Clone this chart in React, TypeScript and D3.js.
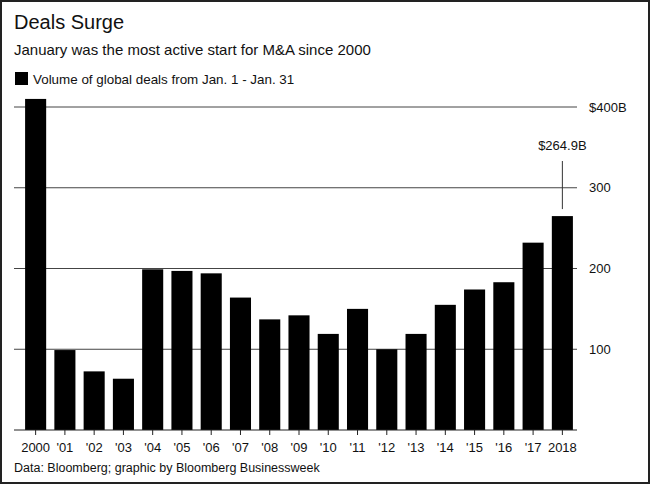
import { useEffect, useRef } from "react";
import * as d3 from "d3";

const years = [
  "2000", "'01", "'02", "'03", "'04", "'05", "'06", "'07", "'08", "'09",
  "'10", "'11", "'12", "'13", "'14", "'15", "'16", "'17", "2018",
];
const volumes = [
  410, 99, 72.6, 63.5, 199, 197, 194, 164, 137, 142,
  119, 150, 100, 119, 155, 174, 183, 232, 264.9,
];
const yTicks = [100, 200, 300, 400];
const yTickLabels = ["100", "200", "300", "$400B"];

const title = "Deals Surge";
const subtitle = "January was the most active start for M&A since 2000";
const legendLabel = "Volume of global deals from Jan. 1 - Jan. 31";
const source = "Data: Bloomberg; graphic by Bloomberg Businessweek";
const callout = "$264.9B";

export default function App() {
  const ref = useRef<HTMLDivElement>(null);

  useEffect(() => {
    const W = 650;
    const H = 484;
    const font = "'Liberation Sans', Arial, sans-serif";

    const svg = d3
      .select(ref.current)
      .html("")
      .append("svg")
      .attr("width", W)
      .attr("height", H)
      .style("position", "absolute")
      .style("left", "0px")
      .style("top", "0px")
      .style("font-family", font);

    svg.append("rect").attr("width", W).attr("height", H).attr("fill", "#fff");
    svg
      .append("rect")
      .attr("x", 1)
      .attr("y", 1)
      .attr("width", W - 2)
      .attr("height", H - 2)
      .attr("fill", "none")
      .attr("stroke", "#222")
      .attr("stroke-width", 2);

    const x = d3
      .scaleBand<string>()
      .domain(years)
      .range([21, 577])
      .paddingInner(0.28)
      .paddingOuter(0.14);

    const y = d3.scaleLinear().domain([0, 400]).range([430, 107]);

    const gridLeft = 14;
    const gridRight = 577;

    // headings
    svg
      .append("text")
      .attr("x", 14)
      .attr("y", 29)
      .attr("font-size", 20)
      .attr("fill", "#111")
      .text(title);
    svg
      .append("text")
      .attr("x", 14)
      .attr("y", 55)
      .attr("font-size", 15)
      .attr("fill", "#111")
      .text(subtitle);

    // legend
    svg
      .append("rect")
      .attr("x", 15)
      .attr("y", 72)
      .attr("width", 13)
      .attr("height", 13)
      .attr("fill", "#000");
    svg
      .append("text")
      .attr("x", 33)
      .attr("y", 84)
      .attr("font-size", 13.4)
      .attr("fill", "#111")
      .text(legendLabel);

    // gridlines + right labels
    const grid = svg.append("g");
    grid
      .selectAll("line")
      .data(yTicks)
      .join("line")
      .attr("x1", gridLeft)
      .attr("x2", gridRight)
      .attr("y1", (d) => y(d))
      .attr("y2", (d) => y(d))
      .attr("stroke", "#444")
      .attr("stroke-width", 1);
    grid
      .selectAll("text")
      .data(yTicks)
      .join("text")
      .attr("x", 589)
      .attr("y", (d) => y(d))
      .attr("dy", "0.35em")
      .attr("font-size", 13)
      .attr("fill", "#111")
      .text((_, i) => yTickLabels[i]);

    // bars
    svg
      .append("g")
      .selectAll("rect")
      .data(volumes)
      .join("rect")
      .attr("x", (_, i) => x(years[i]) as number)
      .attr("width", x.bandwidth())
      .attr("y", (d) => y(d))
      .attr("height", (d) => y(0) - y(d))
      .attr("fill", "#000");

    // baseline axis
    svg
      .append("line")
      .attr("x1", gridLeft)
      .attr("x2", gridRight)
      .attr("y1", y(0))
      .attr("y2", y(0))
      .attr("stroke", "#222")
      .attr("stroke-width", 1);
    const cx = (yr: string) => (x(yr) as number) + x.bandwidth() / 2;
    svg
      .append("g")
      .selectAll("line")
      .data(years)
      .join("line")
      .attr("x1", cx)
      .attr("x2", cx)
      .attr("y1", y(0))
      .attr("y2", y(0) + 5)
      .attr("stroke", "#222");
    svg
      .append("g")
      .selectAll("text")
      .data(years)
      .join("text")
      .attr("x", cx)
      .attr("y", 452)
      .attr("text-anchor", "middle")
      .attr("font-size", 13)
      .attr("fill", "#111")
      .text((d) => d);

    // callout on last bar
    const last = years[years.length - 1];
    const lastVal = volumes[volumes.length - 1];
    svg
      .append("line")
      .attr("x1", cx(last))
      .attr("x2", cx(last))
      .attr("y1", 161)
      .attr("y2", y(lastVal) - 7)
      .attr("stroke", "#333");
    svg
      .append("text")
      .attr("x", cx(last))
      .attr("y", 150)
      .attr("text-anchor", "middle")
      .attr("font-size", 13)
      .attr("fill", "#111")
      .text(callout);

    // source
    svg
      .append("text")
      .attr("x", 14)
      .attr("y", 472)
      .attr("font-size", 12.5)
      .attr("fill", "#111")
      .text(source);
  }, []);

  return <div ref={ref} />;
}
